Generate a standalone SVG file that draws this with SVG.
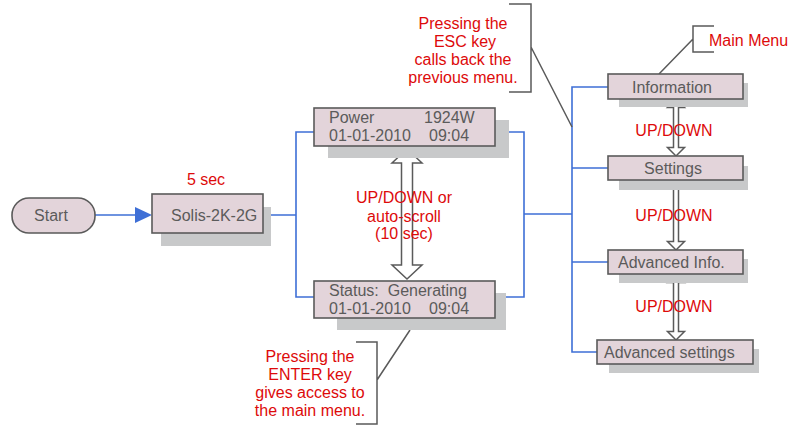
<svg xmlns="http://www.w3.org/2000/svg" width="789" height="425" viewBox="0 0 789 425">
<style>
.box{fill:#e3d4da;stroke:#5a5a5a;stroke-width:1.6}
.sh{fill:#c8c9ca}
.t{font-family:"Liberation Sans",Arial,sans-serif;font-size:16px;fill:#5b5b5b;white-space:pre}
.r{font-family:"Liberation Sans",Arial,sans-serif;font-size:16px;fill:#dd0a0a}
.blue{fill:none;stroke:#3e6fd6;stroke-width:1.6}
.ann{fill:none;stroke:#5a5a5a;stroke-width:1.5}
.dbl{fill:#ffffff;stroke:#5a5a5a;stroke-width:1.5;stroke-linejoin:miter}
.c{text-anchor:middle}
</style>
<rect width="789" height="425" fill="#ffffff"/>
<g id="connectors">
<path class="blue" d="M95,215 H137"/>
<polygon points="135,207 152,215 135,223" fill="#3e6fd6"/>
<path class="blue" d="M263,215 H296 M314,132 H296 V297 H314 M495,132 H524 V297 H495 M524,214 H572 M608,87 H572 V352 H597 M572,168 H608 M572,262 H608"/>
<path class="ann" d="M509,4 H531 V92 H509 M531,47 L572,127"/>
<path class="ann" d="M714,26 H693 V52 H714 M693,39 L659,74"/>
<path class="ann" d="M356,342 H377 V424 H356 M377,380 L410,330"/>
<path class="dbl" d="M407,149 L422,163 L412.5,163 L412.5,265 L422,265 L407,279 L392,265 L401.5,265 L401.5,163 L392,163 Z"/>
<path class="dbl" d="M676,99 L684.5,107.5 L678.5,107.5 L678.5,147.5 L684.5,147.5 L676,156 L667.5,147.5 L673.5,147.5 L673.5,107.5 L667.5,107.5 Z"/>
<path class="dbl" d="M676,180 L684.5,188.5 L678.5,188.5 L678.5,241.5 L684.5,241.5 L676,250 L667.5,241.5 L673.5,241.5 L673.5,188.5 L667.5,188.5 Z"/>
<path class="dbl" d="M676,274 L684.5,282.5 L678.5,282.5 L678.5,331.5 L684.5,331.5 L676,340 L667.5,331.5 L673.5,331.5 L673.5,282.5 L667.5,282.5 Z"/>
<text class="r c" x="206" y="185">5 sec</text>
<text class="r c" x="404" y="203">UP/DOWN or</text>
<text class="r c" x="404" y="222">auto-scroll</text>
<text class="r c" x="404" y="239">(10 sec)</text>
<text class="r c" x="674" y="136">UP/DOWN</text>
<text class="r c" x="674" y="221">UP/DOWN</text>
<text class="r c" x="674" y="312">UP/DOWN</text>
</g>
<g id="start">
<rect class="box" x="12" y="198" width="83" height="35" rx="17" ry="17"/>
<text class="t c" x="51" y="221">Start</text>
</g>
<g id="solis">
<rect class="sh" x="161" y="207" width="110" height="39"/>
<rect class="box" x="152" y="194" width="111" height="39"/>
<text class="t" x="171" y="221">Solis-2K-2G</text>
</g>
<g id="power">
<rect class="sh" x="328" y="120" width="181" height="38"/>
<rect class="box" x="314" y="108" width="181" height="38"/>
<text class="t" x="329" y="123">Power</text>
<text class="t" x="424" y="123">1924W</text>
<text class="t" x="329" y="141">01-01-2010</text>
<text class="t" x="429" y="141">09:04</text>
</g>
<g id="status">
<rect class="sh" x="337" y="293" width="169" height="37"/>
<rect class="box" x="314" y="281" width="181" height="37"/>
<text class="t" x="329" y="296" xml:space="preserve">Status:  Generating</text>
<text class="t" x="329" y="314">01-01-2010</text>
<text class="t" x="429" y="314">09:04</text>
</g>
<g id="information">
<rect class="sh" x="619" y="83" width="129" height="24"/>
<rect class="box" x="608" y="74" width="135" height="25"/>
<text class="t c" x="672" y="93">Information</text>
</g>
<g id="settings">
<rect class="sh" x="619" y="166" width="129" height="24"/>
<rect class="box" x="608" y="156" width="135" height="24"/>
<text class="t c" x="673" y="174">Settings</text>
</g>
<g id="advinfo">
<rect class="sh" x="619" y="259" width="129" height="24"/>
<rect class="box" x="608" y="250" width="135" height="24"/>
<text class="t" x="618" y="268">Advanced Info.</text>
</g>
<g id="advsettings">
<rect class="sh" x="609" y="349" width="150" height="24"/>
<rect class="box" x="597" y="340" width="156" height="24"/>
<text class="t" x="604" y="358">Advanced settings</text>
</g>
<g id="esc-note">
<text class="r c" x="463" y="29">Pressing the</text>
<text class="r c" x="465" y="47">ESC key</text>
<text class="r c" x="463" y="65">calls back the</text>
<text class="r c" x="463" y="83">previous menu.</text>
</g>
<g id="enter-note">
<text class="r c" x="310" y="362">Pressing the</text>
<text class="r c" x="310" y="380">ENTER key</text>
<text class="r c" x="310" y="398">gives access to</text>
<text class="r c" x="310" y="416">the main menu.</text>
</g>
<g id="mainmenu-note">
<text class="r" x="709" y="46">Main Menu</text>
</g>
</svg>
